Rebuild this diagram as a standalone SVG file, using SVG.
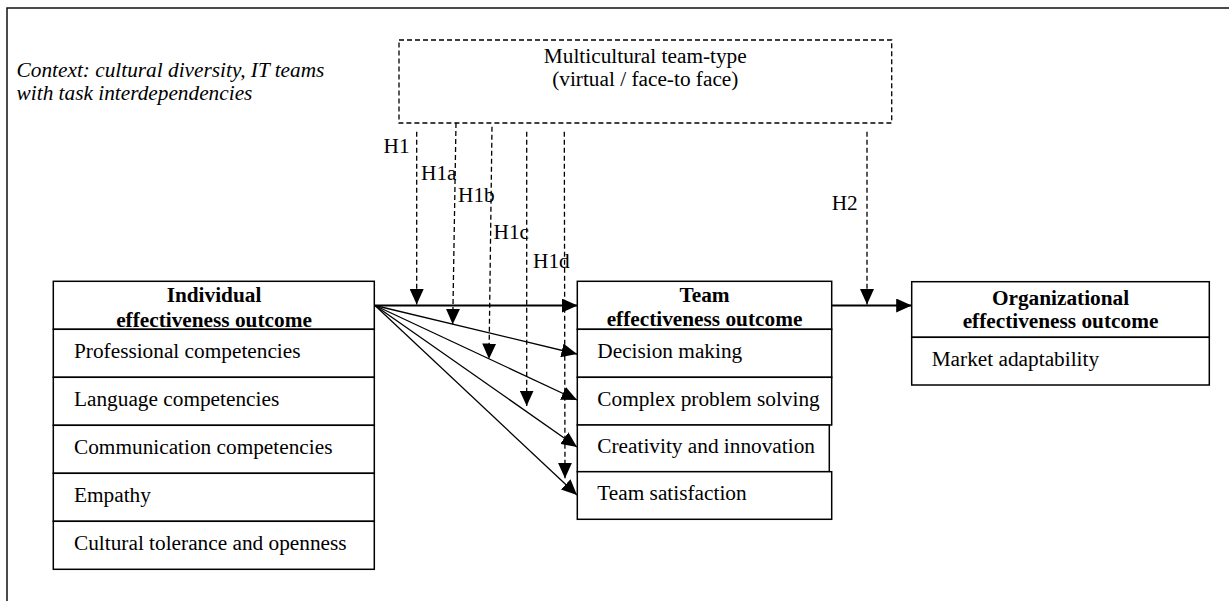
<svg xmlns="http://www.w3.org/2000/svg" width="1229" height="601" viewBox="0 0 1229 601">
<style>
text{font-family:"Liberation Serif","Times New Roman",serif;font-size:21.3px;fill:#000}
.b{font-weight:bold;text-anchor:middle}
.c{text-anchor:middle}
.i{font-style:italic}
.box{fill:#fff;stroke:#000;stroke-width:1.5}
.dbox{fill:none;stroke:#000;stroke-width:1.3;stroke-dasharray:5 3}
.dl{fill:none;stroke:#000;stroke-width:1.3;stroke-dasharray:5 3}
.sl{fill:none;stroke:#000;stroke-width:1.3}
.ml{fill:none;stroke:#000;stroke-width:2}
</style>
<defs>
<marker id="ah" viewBox="0 0 15.5 14" markerWidth="15.5" markerHeight="14" refX="15.5" refY="7" orient="auto" markerUnits="userSpaceOnUse">
<path d="M0,0 L15.5,7 L0,14 z" fill="#000"/>
</marker>
</defs>
<rect x="7" y="8" width="1240" height="620" fill="#fff" stroke="#111" stroke-width="1.5"/>
<g id="context">
<text class="i" x="16.6" y="77.3">Context: cultural diversity, IT teams</text>
<text class="i" x="16.6" y="100">with task interdependencies</text>
</g>
<g id="team-type">
<rect class="dbox" x="399" y="40" width="492.7" height="83"/>
<text class="c" x="645.3" y="63">Multicultural team-type</text>
<text class="c" x="645.3" y="86">(virtual / face-to face)</text>
</g>
<g id="individual">
<rect class="box" x="53.3" y="281.3" width="321" height="48"/>
<rect class="box" x="53.3" y="329.3" width="321" height="48"/>
<rect class="box" x="53.3" y="377.3" width="321" height="48"/>
<rect class="box" x="53.3" y="425.3" width="321" height="48"/>
<rect class="box" x="53.3" y="473.3" width="321" height="48"/>
<rect class="box" x="53.3" y="521.3" width="321" height="48"/>
<text class="b" x="214" y="301.7">Individual</text>
<text class="b" x="214" y="326.7">effectiveness outcome</text>
<text x="74" y="358.3">Professional competencies</text>
<text x="74" y="406.3">Language competencies</text>
<text x="74" y="454.3">Communication competencies</text>
<text x="74" y="502.3">Empathy</text>
<text x="74" y="550.3">Cultural tolerance and openness</text>
</g>
<g id="team">
<rect class="box" x="577.3" y="281.3" width="254.4" height="48"/>
<rect class="box" x="577.3" y="329.3" width="254.4" height="48"/>
<rect class="box" x="577.3" y="377.3" width="254.4" height="47.7"/>
<rect class="box" x="577.3" y="425" width="252" height="46.7"/>
<rect class="box" x="577.3" y="471.7" width="254.4" height="47.6"/>
<text class="b" x="704.5" y="301.7">Team</text>
<text class="b" x="704.5" y="326">effectiveness outcome</text>
<text x="597.3" y="358.3">Decision making</text>
<text x="597.3" y="406">Complex problem solving</text>
<text x="597.3" y="453.3">Creativity and innovation</text>
<text x="597.3" y="500">Team satisfaction</text>
</g>
<g id="organizational">
<rect class="box" x="911.7" y="281.7" width="297.6" height="55.6"/>
<rect class="box" x="911.7" y="337.3" width="297.6" height="47.7"/>
<text class="b" x="1060.5" y="305">Organizational</text>
<text class="b" x="1060.5" y="328.3">effectiveness outcome</text>
<text x="931.7" y="366">Market adaptability</text>
</g>
<g id="connectors">
<line class="ml" x1="374.3" y1="305.5" x2="577.3" y2="305.5" marker-end="url(#ah)"/>
<line class="sl" x1="375" y1="305.5" x2="577" y2="354" marker-end="url(#ah)"/>
<line class="sl" x1="375" y1="305.5" x2="577" y2="400" marker-end="url(#ah)"/>
<line class="sl" x1="375" y1="305.5" x2="577" y2="447" marker-end="url(#ah)"/>
<line class="sl" x1="375" y1="305.5" x2="577" y2="495" marker-end="url(#ah)"/>
<line class="ml" x1="831.7" y1="305.5" x2="911.7" y2="305.5" marker-end="url(#ah)"/>
<line class="dl" x1="416.7" y1="131.7" x2="416.7" y2="304.5" marker-end="url(#ah)"/>
<line class="dl" x1="456" y1="123" x2="452.7" y2="324.3" marker-end="url(#ah)"/>
<line class="dl" x1="492" y1="126.7" x2="489" y2="359" marker-end="url(#ah)"/>
<line class="dl" x1="526.7" y1="131.7" x2="526.7" y2="406" marker-end="url(#ah)"/>
<line class="dl" x1="564.3" y1="131.7" x2="565" y2="478.3" marker-end="url(#ah)"/>
<line class="dl" x1="867" y1="131.7" x2="867" y2="304.5" marker-end="url(#ah)"/>
</g>
<g id="labels">
<text x="383.5" y="152.7">H1</text>
<text x="421" y="180">H1a</text>
<text x="458" y="201.7">H1b</text>
<text x="493.5" y="239.3">H1c</text>
<text x="533" y="268.3">H1d</text>
<text x="831.7" y="210">H2</text>
</g>
</svg>
